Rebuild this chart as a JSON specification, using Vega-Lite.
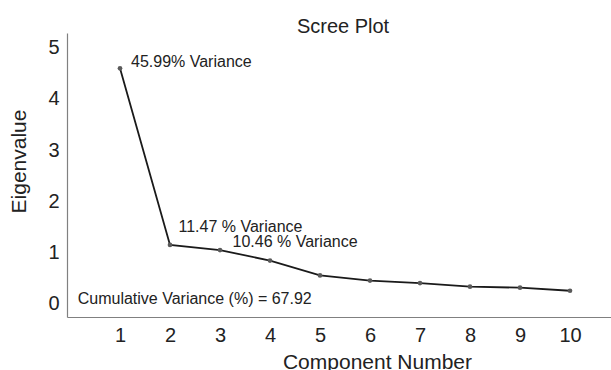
{
  "$schema": "https://vega.github.io/schema/vega-lite/v6.json",
  "autosize": {"type": "none"},
  "padding": {"left": 67, "top": 33, "right": 0, "bottom": 53},
  "width": 544,
  "height": 284,
  "background": "white",
  "config": {
    "font": "Liberation Sans",
    "view": {"stroke": null},
    "axis": {"grid": false, "ticks": false, "domainColor": "#808080", "domainWidth": 1.2, "labelColor": "#222222", "titleColor": "#222222", "labelFont": "Liberation Sans", "titleFont": "Liberation Sans", "titleFontWeight": "normal"}
  },
  "title": {"text": "Scree Plot", "fontSize": 20, "fontWeight": "normal", "color": "#222222", "anchor": "middle", "frame": "group", "baseline": "bottom", "offset": -2, "dx": 4, "dy": 22, "font": "Liberation Sans"},
  "datasets": {
    "scree": [
      {"component": 1, "eigenvalue": 4.599},
      {"component": 2, "eigenvalue": 1.147},
      {"component": 3, "eigenvalue": 1.046},
      {"component": 4, "eigenvalue": 0.84},
      {"component": 5, "eigenvalue": 0.55},
      {"component": 6, "eigenvalue": 0.45},
      {"component": 7, "eigenvalue": 0.4},
      {"component": 8, "eigenvalue": 0.33},
      {"component": 9, "eigenvalue": 0.31},
      {"component": 10, "eigenvalue": 0.25}
    ],
    "notes": [
      {"x": 1.22, "y": 4.62, "label": "45.99% Variance"},
      {"x": 2.17, "y": 1.4, "label": "11.47 % Variance"},
      {"x": 3.25, "y": 1.11, "label": "10.46 % Variance"},
      {"x": 0.154, "y": 0.0, "label": "Cumulative Variance (%) = 67.92"}
    ]
  },
  "layer": [
    {
      "data": {"name": "scree"},
      "mark": {"type": "line", "color": "#1a1a1a", "strokeWidth": 1.8, "clip": true},
      "encoding": {
        "x": {"field": "component", "type": "quantitative", "scale": {"domain": [-0.06, 10.82], "nice": false, "zero": false},
          "axis": {"values": [1,2,3,4,5,6,7,8,9,10], "format": "d", "labelFontSize": 20, "labelPadding": 8, "title": "Component Number", "titleFontSize": 21, "titleX": 310, "titleY": 51, "titleBaseline": "alphabetic", "titleAlign": "center"}},
        "y": {"field": "eigenvalue", "type": "quantitative", "scale": {"domain": [-0.263, 5.29], "nice": false, "zero": false},
          "axis": {"values": [0,1,2,3,4,5], "format": "d", "labelFontSize": 20, "labelPadding": 8, "title": "Eigenvalue", "titleFontSize": 21, "titleX": -42, "titleY": 128, "titleBaseline": "alphabetic", "titleAngle": -90, "titleAlign": "center"}}
      }
    },
    {
      "data": {"name": "scree"},
      "mark": {"type": "point", "filled": true, "color": "#5a5a5a", "size": 22, "opacity": 1},
      "encoding": {
        "x": {"field": "component", "type": "quantitative"},
        "y": {"field": "eigenvalue", "type": "quantitative"}
      }
    },
    {
      "data": {"name": "notes"},
      "mark": {"type": "text", "align": "left", "baseline": "alphabetic", "fontSize": 16, "color": "#222222", "font": "Liberation Sans"},
      "encoding": {
        "x": {"field": "x", "type": "quantitative"},
        "y": {"field": "y", "type": "quantitative"},
        "text": {"field": "label"}
      }
    }
  ]
}
